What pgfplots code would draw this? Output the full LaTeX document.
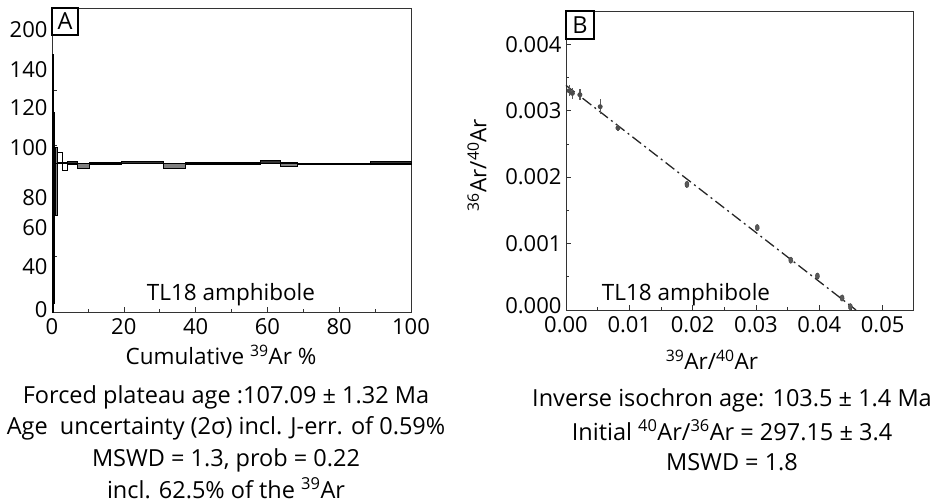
\documentclass[border=0pt]{standalone}
\usepackage{fontspec}
\setmainfont{Open Sans}
\usepackage{pgfplots}
\pgfplotsset{compat=1.18}
\newcommand{\bigtxt}{\fontsize{23.5}{30}\selectfont}
\newcommand{\midtxt}{\fontsize{22.5}{28}\selectfont}
\newcommand{\tk}{\fontsize{22}{26}\selectfont}
\begin{document}
\begin{tikzpicture}[x=1pt,y=1pt]
\path[use as bounding box] (0,0) rectangle (934,503);
% ---------------- Panel A ----------------
\begin{axis}[
  at={(52pt,191pt)}, anchor=south west, scale only axis,
  width=359pt, height=304pt,
  xmin=0, xmax=100, ymin=0, ymax=219.5,
  axis line style={black!80, line width=0.8pt},
  tick pos=left, tick align=inside,
  major tick length=5pt, minor tick length=3pt,
  every tick/.style={black!80, line width=0.6pt},
  /pgf/number format/assume math mode=true,
  ticklabel style={font=\tk},
  xticklabel style={yshift=-3pt},
  yticklabel style={xshift=-1pt},
  xtick={0,20,...,100}, minor xtick={10,30,...,90},
  ytick={0,40,...,200}, yticklabels={},
  extra y ticks={1.4,32.5,60.6,82.3,118.4,147.3,174.7,203.6},
  extra y tick labels={0,40,60,80,100,120,140,200},
  extra y tick style={major tick length=0pt},
  clip=false,
]
% steps: rectangles (x0,x1,ymin,ymax)
\addplot[draw=black, line width=0.6pt, fill=white] coordinates {(0,0) (0.3,0) (0.3,186) (0,186)} -- cycle;
\addplot[draw=black, line width=0.6pt, fill=black] coordinates {(0.2,6) (0.7,6) (0.7,144) (0.2,144)} -- cycle;
\addplot[draw=black, line width=0.6pt, fill=gray] coordinates {(0.8,70) (1.5,70) (1.5,119) (0.8,119)} -- cycle;
\addplot[draw=black, line width=0.6pt, fill=white] coordinates {(1.5,108) (3.0,108) (3.0,115) (1.5,115)} -- cycle;
\addplot[draw=black, line width=0.6pt, fill=white] coordinates {(3.0,102) (4.3,102) (4.3,108) (3.0,108)} -- cycle;
\addplot[draw=black, line width=0.6pt, fill=black!80] coordinates {(4.3,107) (7.0,107) (7.0,109) (4.3,109)} -- cycle;
\addplot[draw=black, line width=0.6pt, fill=gray] coordinates {(7.0,104) (10.3,104) (10.3,107.4) (7.0,107.4)} -- cycle;
\addplot[draw=black, line width=0.6pt, fill=black!80] coordinates {(10.3,106.5) (19.2,106.5) (19.2,107.8) (10.3,107.8)} -- cycle;
\addplot[draw=black, line width=0.6pt, fill=black!80] coordinates {(19.2,107.4) (30.9,107.4) (30.9,109) (19.2,109)} -- cycle;
\addplot[draw=black, line width=0.6pt, fill=gray] coordinates {(30.9,104) (37.0,104) (37.0,107.4) (30.9,107.4)} -- cycle;
\addplot[draw=black, line width=0.6pt, fill=black!80] coordinates {(37.0,106.5) (50.4,106.5) (50.4,108) (37.0,108)} -- cycle;
\addplot[draw=black, line width=0.6pt, fill=black!80] coordinates {(50.4,106.5) (57.9,106.5) (57.9,108) (50.4,108)} -- cycle;
\addplot[draw=black, line width=0.6pt, fill=black!80] coordinates {(57.9,107.4) (63.7,107.4) (63.7,109.3) (57.9,109.3)} -- cycle;
\addplot[draw=black, line width=0.6pt, fill=gray] coordinates {(63.7,105.4) (68.3,105.4) (68.3,108) (63.7,108)} -- cycle;
\addplot[draw=black, line width=0.6pt, fill=black!80] coordinates {(68.3,106.5) (74.8,106.5) (74.8,107.5) (68.3,107.5)} -- cycle;
\addplot[draw=black, line width=0.6pt, fill=black!80] coordinates {(74.8,106.5) (80.7,106.5) (80.7,107.5) (74.8,107.5)} -- cycle;
\addplot[draw=black, line width=0.6pt, fill=black!80] coordinates {(80.7,106.5) (88.6,106.5) (88.6,107.5) (80.7,107.5)} -- cycle;
\addplot[draw=black, line width=0.6pt, fill=black!80] coordinates {(88.6,107) (100,107) (100,108.8) (88.6,108.8)} -- cycle;
% plateau line
\addplot[black, line width=1.3pt] coordinates {(0,107.09) (100,107.09)};
\end{axis}
% ---------------- Panel B ----------------
\begin{axis}[
  at={(566pt,193pt)}, anchor=south west, scale only axis,
  width=347pt, height=299pt,
  xmin=0, xmax=0.0548, ymin=0, ymax=0.0045,
  axis line style={black!80, line width=0.8pt},
  tick pos=left, tick align=inside,
  major tick length=5pt, minor tick length=3pt,
  every tick/.style={black!80, line width=0.6pt},
  /pgf/number format/assume math mode=true,
  ticklabel style={font=\tk},
  xticklabel style={yshift=-3pt},
  yticklabel style={xshift=-1pt},
  xtick={0,0.01,...,0.05}, minor xtick={0.005,0.015,...,0.045},
  xticklabels={0.00,0.01,0.02,0.03,0.04,0.05},
  ytick={0,0.001,...,0.004}, minor ytick={0.0005,0.0015,...,0.0035},
  yticklabels={\raisebox{8pt}{0.000},0.001,0.002,0.003,0.004},
  scaled ticks=false,
  clip=false,
]
\addplot[black!85, line width=1.3pt, dash pattern=on 11pt off 4pt on 2pt off 4pt] coordinates {(0,0.00338) (0.0458,0)};
\addplot[only marks, mark=*, mark size=3.2pt, mark options={fill=black!65, draw=black!75, xscale=0.65, rotate=-10}]
  coordinates {(0.0191,0.00189) (0.0302,0.00124) (0.0355,0.00075) (0.0397,0.00051) (0.0436,0.00018) (0.0449,0.00005)};
\addplot[only marks, mark=none, black!70, line width=0.9pt,
  error bars/.cd, y dir=both, y explicit, error mark=none, error bar style={black!65, line width=1.2pt}]
  coordinates {(0.0005,0.00330) +- (0,0.00008) (0.0010,0.00326) +- (0,0.00008) (0.0022,0.00324) +- (0,0.00008) (0.0054,0.00306) +- (0,0.00011) (0.0082,0.00274) +- (0,0.00005)};
\end{axis}
% panel letters
\draw[black, line width=1.2pt, fill=white] (52,468) rectangle (78,495);
\node[font=\bigtxt] at (65,481.5) {A};
\draw[black, line width=1.2pt, fill=white] (566,464) rectangle (594,492);
\node[font=\bigtxt] at (580,478) {B};
% in-plot titles
\node[font=\midtxt] at (231,208) {TL18 amphibole};
\node[font=\midtxt] at (686,208) {TL18 amphibole};
% axis labels
\node[font=\midtxt] at (221,148) {Cumulative \textsuperscript{39}Ar \%};
\node[font=\midtxt] at (712,143) {\textsuperscript{39}Ar/\textsuperscript{40}Ar};
\node[font=\midtxt, rotate=90] at (477,338) {\textsuperscript{36}Ar/\textsuperscript{40}Ar};
% captions
\node[font=\bigtxt] at (226,106) {Forced plateau age :107.09 ± 1.32 Ma};
\node[font=\bigtxt] at (226,75) {Age\ \ uncertainty (2σ) incl. J-err. of 0.59\%};
\node[font=\bigtxt] at (226,43) {MSWD = 1.3, prob = 0.22};
\node[font=\bigtxt] at (226,15) {incl. 62.5\% of the \textsuperscript{39}Ar};
\node[font=\bigtxt] at (732,103) {Inverse isochron age: 103.5 ± 1.4 Ma};
\node[font=\bigtxt] at (732,73) {Initial \textsuperscript{40}Ar/\textsuperscript{36}Ar = 297.15 ± 3.4};
\node[font=\bigtxt] at (732,41) {MSWD = 1.8};
\end{tikzpicture}
\end{document}
